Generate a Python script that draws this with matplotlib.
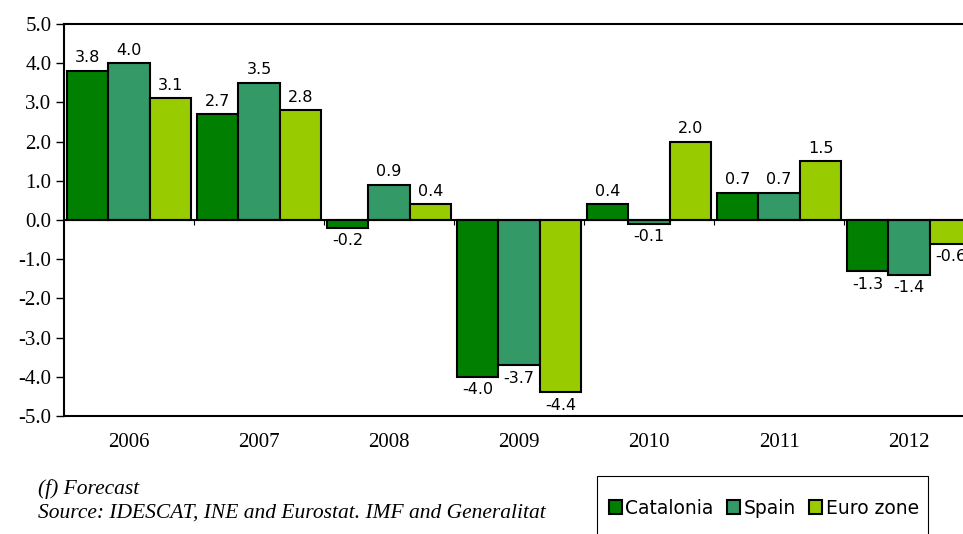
import numpy as np
import matplotlib
matplotlib.use("Agg")
import matplotlib.pyplot as plt
from matplotlib.patches import Rectangle
from matplotlib.ticker import FormatStrFormatter

# Datos
years = ["2006", "2007", "2008", "2009", "2010", "2011", "2012"]
catalonia = [3.8, 2.7, -0.2, -4.0, 0.4, 0.7, -1.3]
spain = [4.0, 3.5, 0.9, -3.7, -0.1, 0.7, -1.4]
euro_zone = [3.1, 2.8, 0.4, -4.4, 2.0, 1.5, -0.6]

series = [("Catalonia", catalonia, "#007f00"),
          ("Spain", spain, "#339966"),
          ("Euro zone", euro_zone, "#99cc00")]

serif = "Liberation Serif"
sans = "DejaVu Sans"

fig = plt.figure(figsize=(9.63, 5.34), dpi=100)
ax = fig.add_axes([64 / 963, 118 / 534, 910 / 963, 392 / 534])

x = np.arange(len(years))
w = 0.32
for i, (name, vals, col) in enumerate(series):
    bars = ax.bar(x + (i - 1) * w, vals, w, color=col, edgecolor="black",
                  linewidth=1.5, label=name, zorder=2)
    ax.bar_label(bars, fmt="%.1f", padding=4, fontsize=11.5, family=sans)

ax.set_xlim(-0.5, len(years) - 0.5)
ax.set_ylim(-5, 5)
ax.set_yticks(np.arange(-5, 6, 1))
ax.yaxis.set_major_formatter(FormatStrFormatter("%.1f"))
ax.set_xticks(x)
ax.set_xticklabels(years)
ax.tick_params(axis="x", length=0, pad=12, labelsize=15)
ax.tick_params(axis="y", length=6, width=1, direction="out", labelsize=15, pad=3)
for lab in ax.get_xticklabels() + ax.get_yticklabels():
    lab.set_family(serif)

for s in ["left", "bottom", "top", "right"]:
    ax.spines[s].set_linewidth(1.5)

# linea del cero con marcas entre categorias
ax.axhline(0, color="black", lw=1.5, zorder=3)
ax.vlines(x[:-1] + 0.5, -0.12, 0, color="black", lw=0.8, zorder=3)

# notas
fig.text(38 / 963, 1 - 489 / 534, "(f) Forecast", family=serif, style="italic",
         fontsize=15.5, va="center")
fig.text(38 / 963, 1 - 513 / 534,
         "Source: IDESCAT, INE and Eurostat. IMF and Generalitat",
         family=serif, style="italic", fontsize=15.5, va="center")

# leyenda
fig.patches.append(Rectangle((597 / 963, -0.1), 331 / 963, 0.1 + 58 / 534,
                             transform=fig.transFigure, fill=False,
                             edgecolor="black", linewidth=0.8))
fig.legend(loc="center left", bbox_to_anchor=(601 / 963, 1 - 508 / 534),
           ncol=3, frameon=False, handlelength=0.7, handleheight=0.7,
           handletextpad=0.2, columnspacing=0.7, borderaxespad=0,
           prop={"family": sans, "size": 13.5})

fig.savefig("out.png", dpi=100)
